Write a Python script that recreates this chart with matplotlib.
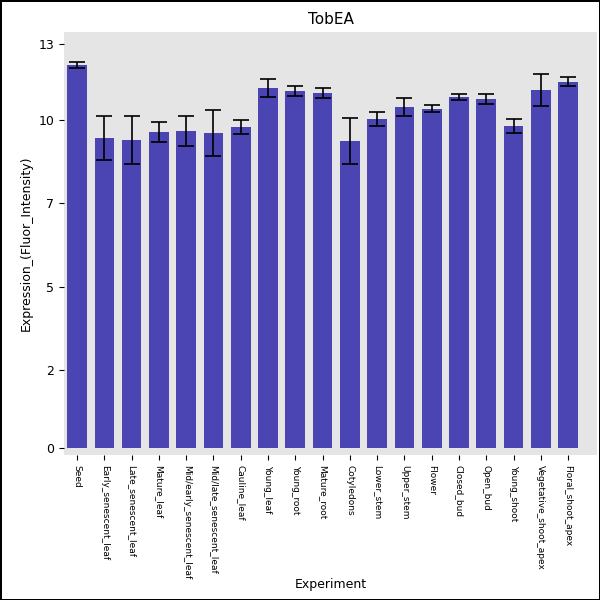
import numpy as np
import matplotlib
matplotlib.use('Agg')
import matplotlib.pyplot as plt

# Data
tissues = ['Seed', 'Early_senescent_leaf', 'Late_senescent_leaf', 'Mature_leaf',
           'Mid/early_senescent_leaf', 'Mid/late_senescent_leaf', 'Cauline_leaf',
           'Young_leaf', 'Young_root', 'Mature_root', 'Cotyledons', 'Lower_stem',
           'Upper_stem', 'Flower', 'Closed_bud', 'Open_bud', 'Young_shoot',
           'Vegetative_shoot_apex', 'Floral_shoot_apex']
expression = [11.68, 9.45, 9.39, 9.63, 9.66, 9.60, 9.79, 10.98, 10.88, 10.82,
              9.36, 10.03, 10.40, 10.34, 10.70, 10.64, 9.82, 10.91, 11.16]
errors = [0.09, 0.67, 0.73, 0.30, 0.46, 0.70, 0.21, 0.27, 0.14, 0.15,
          0.70, 0.21, 0.27, 0.11, 0.08, 0.14, 0.21, 0.49, 0.14]
tick_pos = [0.0, 2.38, 4.9, 7.47, 9.99, 12.32]
tick_labels = ['0', '2', '5', '7', '10', '13']

fig = plt.figure(figsize=(6, 6), dpi=100, edgecolor='black', linewidth=1)
ax = fig.add_axes([64/600, 145/600, 533/600, 423/600])
ax.set_facecolor('#e5e5e5')

x = np.arange(len(tissues))
ax.bar(x, expression, width=0.72, color='#4b44b3',
       yerr=errors, error_kw=dict(ecolor='black', capsize=6, elinewidth=1.2, capthick=1.2))

ax.set_xlim(-0.48, len(tissues) + 0.06)
ax.set_ylim(-0.21, 12.68)
ax.set_yticks(tick_pos)
ax.set_yticklabels(tick_labels, fontsize=9)
ax.set_xticks(x)
ax.set_xticklabels(tissues, rotation=-90, fontsize=6.5, ha='center', va='top')
for s in ax.spines.values():
    s.set_visible(False)

ax.set_title('TobEA', fontsize=11)
ax.set_ylabel('Expression_(Fluor_Intensity)', fontsize=9)
ax.set_xlabel('Experiment', fontsize=9)
ax.xaxis.set_label_coords(0.5, -0.29)

fig.savefig('out.png', dpi=100, edgecolor=fig.get_edgecolor())
